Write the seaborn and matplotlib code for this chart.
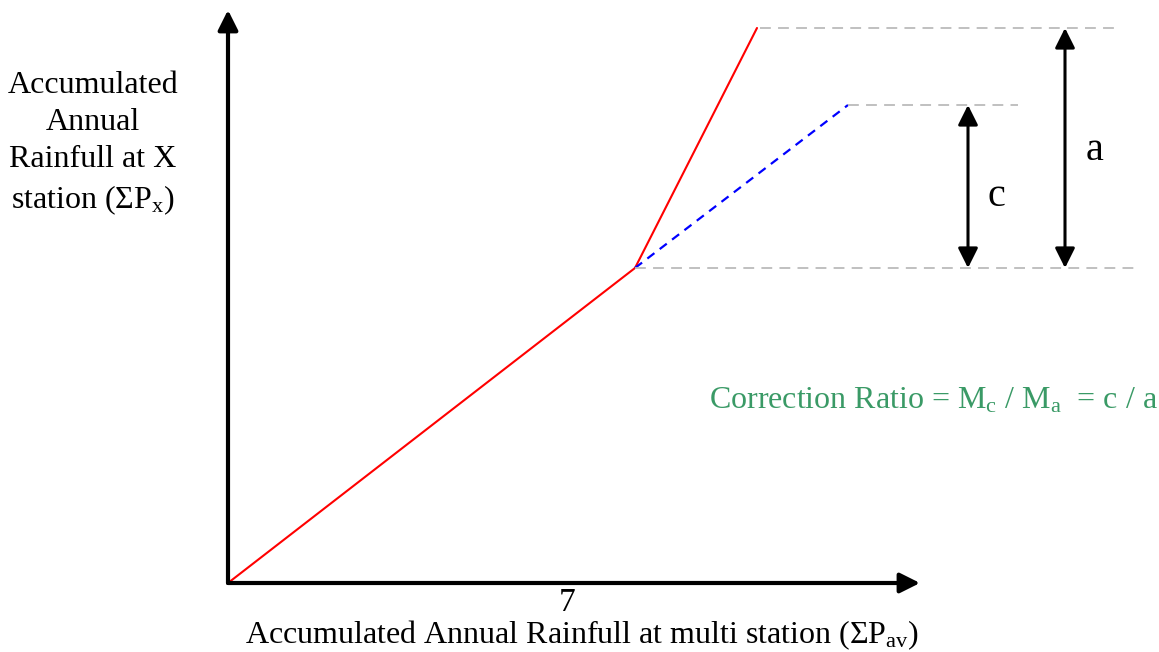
import matplotlib
matplotlib.use("Agg")
import matplotlib.pyplot as plt
import seaborn as sns
import pandas as pd

# geometry of the double mass curve sketch (units: pixel offsets from origin)
curve_x = [0, 407, 529]
curve_y = [0, 315, 555]
adjusted_x = [407, 620]
adjusted_y = [315, 478]
break_y = 315
top_a = 555
top_c = 478
guide_spans = [(532, 892, top_a), (620, 790, top_c), (407, 907, break_y)]
arrow_c_x = 740
arrow_a_x = 837
axis_x_end = 692
axis_y_end = 573

sns.set_style("white")
plt.rcParams["font.family"] = ["Liberation Serif", "DejaVu Serif"]
plt.rcParams["text.color"] = "black"
plt.rcParams["mathtext.fontset"] = "custom"
plt.rcParams["mathtext.rm"] = "Liberation Serif"
plt.rcParams["mathtext.it"] = "Liberation Serif:italic"

fig = plt.figure(figsize=(11.59, 6.52), dpi=100)
ax = fig.add_axes([0, 0, 1, 1])
ax.set_xlim(-228, 931)
ax.set_ylim(-69, 583)
ax.axis("off")

df_curve = pd.DataFrame({"x": curve_x, "y": curve_y})
df_adj = pd.DataFrame({"x": adjusted_x, "y": adjusted_y})
sns.lineplot(data=df_curve, x="x", y="y", color="red", lw=1.5, sort=False, ax=ax)
sns.lineplot(data=df_adj, x="x", y="y", color="blue", lw=1.6, sort=False, ax=ax,
             dashes=False, linestyle=(0, (4, 3)))

for x0, x1, yy in guide_spans:
    ax.plot([x0, x1], [yy, yy], color="#bbbbbb", lw=1.3, linestyle=(0, (6, 4)))

# axes arrows
ax.annotate("", xy=(0, axis_y_end), xytext=(0, 0),
            arrowprops=dict(arrowstyle="-|>", lw=3, color="black", mutation_scale=30,
                            shrinkA=0, shrinkB=0))
ax.annotate("", xy=(axis_x_end, 0), xytext=(0, 0),
            arrowprops=dict(arrowstyle="-|>", lw=3, color="black", mutation_scale=30,
                            shrinkA=0, shrinkB=0))

# c and a dimension arrows
for xx, top in [(arrow_c_x, top_c), (arrow_a_x, top_a)]:
    ax.annotate("", xy=(xx, top), xytext=(xx, break_y),
                arrowprops=dict(arrowstyle="<|-|>", lw=2.2, color="black", mutation_scale=30,
                                shrinkA=0, shrinkB=0))

ax.text(arrow_c_x + 28, 387, "c", fontsize=29, ha="center", va="center", color="black")
ax.text(arrow_a_x + 30, 432, "a", fontsize=29, ha="center", va="center", color="black")

ax.text(-135, 439, "Accumulated\nAnnual\nRainfull at X\nstation ($\\Sigma\\mathrm{P_x}$)",
        fontsize=23, ha="center", va="center", linespacing=1.38, color="black")
ax.text(339, -20, "7", fontsize=24, ha="center", va="center", color="black")
ax.text(354, -52, "Accumulated Annual Rainfull at multi station ($\\Sigma\\mathrm{P_{av}}$)",
        fontsize=23, ha="center", va="center", color="black")
ax.text(705, 182, "Correction Ratio = $\\mathrm{M_c}$ / $\\mathrm{M_a}$  = c / a",
        fontsize=23, ha="center", va="center", color="#3a9a66")

fig.savefig("out.png", dpi=100)
